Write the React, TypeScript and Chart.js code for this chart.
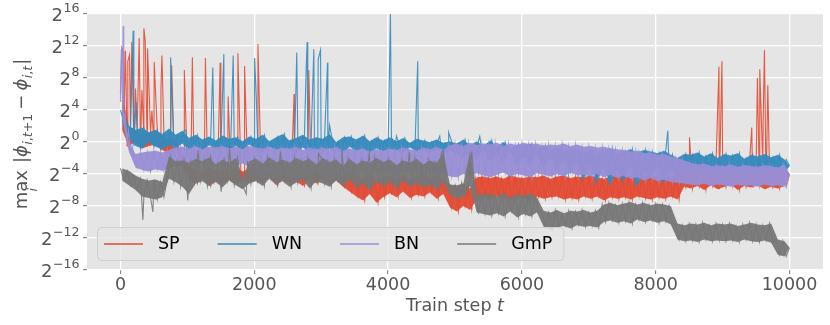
import React, { useEffect, useRef } from 'react';
import { Chart, registerables } from 'chart.js';

Chart.register(...registerables);

// ---------- data (values are log2 of max_i |phi_{i,t+1} - phi_{i,t}|) ----------
const STEP = 50; // spacing (train steps) of the base samples below
const X_TICKS = [0, 2000, 4000, 6000, 8000, 10000];
const Y_TICK_EXPONENTS = [-16, -12, -8, -4, 0, 4, 8, 12, 16];
const SERIES_NAMES = ['SP', 'WN', 'BN', 'GmP'];
const SERIES_RGB = ['226,74,51', '52,138,189', '152,142,213', '119,119,119'];
const LEGEND_COLORS = ['#E24A33', '#348ABD', '#988ED5', '#777777'];

const SP_BASE = [
  6, 1.5, -0.5, 2, 0, 1.5, -0.8, 1, -0.5, 1.2,
  -0.3, 1.5, -1, 0.8, -1.5, 0.5, -1, 0.2, -2.5, -1.5,
  -3.2, -4.8, -3.5, -5.2, -3.8, -4.5, -3.2, -5.5, -3.6, -4.9,
  -3.4, -5.1, -3.9, -4.6, -3.1, -5.3, -3.7, -4.8, -3.3, -5.0,
  -3.6, -4.7, -3.4, -5.2, -3.8, -4.4, -3.5, -5.4, -3.9, -4.6,
  -3.3, -5.1, -3.7, -4.9, -3.5, -5.5, -4.0, -4.7, -3.4, -5.2,
  -3.8, -4.6, -3.6, -5.3, -3.5, -4.8, -3.9, -5.6, -3.7, -6.2,
  -4.1, -6.8, -4.5, -7.3, -4.0, -6.5, -4.8, -7.6, -4.3, -6.9,
  -4.2, -6.4, -4.6, -6.9, -4.1, -6.2, -4.7, -7.0, -4.4, -6.6,
  -4.0, -6.8, -4.5, -6.3, -4.2, -7.1, -4.6, -6.5, -5.3, -8.2,
  -5.6, -8.7, -5.2, -8.0, -5.8, -8.5, -4.4, -7.2, -4.3, -6.9,
  -4.5, -7.1, -4.3, -6.8, -4.6, -7.0, -4.2, -7.2, -4.4, -6.9,
  -4.5, -7.0, -4.3, -7.3, -4.4, -6.8, -4.2, -7.1, -4.6, -6.9,
  -4.3, -6.8, -4.2, -7.2, -4.5, -7.0, -4.3, -7.2, -4.4, -6.8,
  -4.2, -7.1, -4.4, -6.8, -4.6, -7.3, -4.3, -6.9, -4.1, -7.1,
  -4.4, -6.9, -4.2, -7.2, -4.5, -6.8, -4.2, -7.0, -4.3, -7.2,
  -4.2, -6.9, -4.5, -7.1, -4.3, -6.8, -4.1, -7.2, -3.0, -5.6,
  -2.8, -5.8, -3.1, -5.5, -2.6, -6.0, -3.0, -5.4, -2.9, -5.9,
  -2.7, -5.6, -3.2, -5.3, -2.9, -6.0, -3.1, -5.5, -2.8, -5.7,
  -3.0, -5.4, -2.7, -5.9, -3.2, -5.6, -2.9, -5.8, -3.1, -5.5,
  -4.0,
];
const SP_SPIKE_STEPS = [20, 45, 75, 110, 135, 170, 225, 280, 320, 350, 370, 405, 470, 505, 605, 620, 765, 955, 1075, 1270, 1490, 1610, 1755, 1855, 2055, 2595, 2815, 8505, 8945, 8990, 9435, 9520, 9555, 9605, 9625, 9675];
const SP_SPIKE_VALUES = [11.8, 11.3, 11.4, 10.1, 10.9, 12.5, 6.7, 13, 6.5, 14.2, 12.7, 11.7, 3.9, 10, 6.5, 10.8, 9.6, 9, 10.6, 10.5, 9.9, 5.7, 11.1, 9.5, 12.25, 6, 9, 0.6, 9.4, 10.1, 1.8, 8, 9.1, 2.4, 11.5, 7.1];

const WN_BASE = [
  4, 2.5, 0.5, 2.0, -0.5, 1.5, -0.8, 1.8, 0, 1.2,
  -0.6, 1.5, -0.9, 1.0, -0.4, 1.7, -0.8, 0.9, -0.2, 1.4,
  -1.0, 0.5, -0.6, 0.9, -1.1, 0.3, -0.4, 0.7, -0.9, 0.2,
  -0.7, 0.8, -1.1, 0.4, -0.5, 0.6, -1.0, 0.1, -0.3, 0.7,
  -0.9, 0.4, -1.3, 0.9, -0.6, 0.1, -1.1, 0.6, -0.8, 1.0,
  -1.0, 0.2, -1.4, 0.5, -0.7, 0.9, -1.2, 0.3, -0.9, 0.6,
  -1.3, 0.4, -0.8, 1.0, -1.1, 0.0, -1.5, 0.6, -0.6, 0.7,
  -1.2, 0.3, -0.9, 0.8, -1.4, 0.1, -0.8, 0.6, -1.2, 0.2,
  -0.9, 0.6, -1.1, 0.1, -1.3, 0.5, -0.7, -0.1, -1.2, 0.4,
  -1.0, 0.2, -1.3, 0.0, -0.9, 0.3, -1.4, -0.1, -1.1, 0.1,
  -1.5, -0.2, -2.0, 0.3, -1.3, -0.4, -2.2, 0.1, -1.0, -0.5,
  -2.3, 0.2, -1.6, -0.6, -2.5, 0.0, -1.2, -0.8, -2.8, -0.3,
  -1.8, -0.5, -3.0, -0.2, -1.5, -0.9, -3.2, -0.4, -2.0, -1.0,
  -3.5, -0.6, -2.2, -1.2, -4.0, -0.8, -2.5, -1.0, -4.6, -1.3,
  -2.8, -0.9, -5.0, -1.4, -3.0, -1.1, -5.3, -0.8, -3.4, -1.5,
  -4.8, -1.2, -3.1, -0.9, -5.5, -1.3, -3.6, -1.0, -4.5, -1.2,
  -3.0, -1.4, -5.0, -1.1, -3.5, -1.6, -4.2, -2.0, -3.3, -1.5,
  -3.8, -1.6, -3.2, -1.3, -4.0, -1.8, -3.5, -1.4, -3.9, -2.0,
  -3.4, -1.5, -4.1, -1.7, -3.6, -1.4, -3.9, -2.1, -3.3, -1.6,
  -4.0, -1.8, -3.5, -1.5, -3.8, -1.9, -3.4, -1.6, -3.9, -2.2,
  -3.0,
];
const WN_SPIKE_STEPS = [190, 235, 750, 980, 1380, 1545, 1685, 2005, 2030, 2635, 2775, 2790, 2890, 2955, 2990, 3095, 3125, 4035, 4125, 4443, 4772, 4905, 5370, 8180];
const WN_SPIKE_VALUES = [13.9, 5, 10.6, 1.5, 9.3, 11, 10.8, 10.5, 5.7, 11.2, 9, 12.5, 11.6, 10.3, 11.5, 9.9, 2.1, 16, 0.75, 10.1, 0.75, 1.2, 0.7, 1.4];

const BN_BASE = [
  5, 3, 0, -1.2, -1.5, -3.2, -1.3, -3.5, -1.2, -3.7,
  -1.1, -3.4, -1.3, -3.6, -1.0, -3.3, -0.7, -2.9, -0.6, -3.0,
  -0.8, -2.8, -0.5, -3.1, -0.9, -2.7, -0.6, -3.0, -0.7, -2.9,
  -0.5, -3.1, -0.8, -2.8, -0.6, -3.0, -0.9, -2.7, -0.5, -3.1,
  -0.7, -4.2, -0.8, -4.5, -0.6, -3.9, -0.9, -4.4, -0.7, -4.0,
  -0.8, -4.3, -0.6, -4.6, -1.0, -4.1, -0.7, -4.4, -0.9, -3.8,
  -0.7, -4.2, -0.9, -4.5, -0.6, -4.0, -1.1, -4.3, -0.8, -3.9,
  -1.0, -4.1, -0.8, -3.7, -1.2, -4.2, -0.9, -3.8, -1.1, -4.0,
  -0.8, -3.9, -1.0, -4.2, -0.7, -3.6, -0.9, -4.0, -1.1, -3.8,
  -0.7, -4.1, -0.9, -3.7, -0.6, -4.2, -1.0, -3.9, -0.4, -4.3,
  -0.2, -4.4, -0.5, -4.0, -0.1, -4.3, -0.4, -3.9, -0.2, -4.2,
  -0.3, -4.4, -0.1, -4.1, -0.5, -3.8, -0.2, -4.3, -0.4, -4.0,
  -0.1, -4.2, -0.3, -4.4, -0.2, -3.9, -0.5, -4.1, -0.3, -4.3,
  -0.4, -4.0, -0.2, -4.3, -0.5, -3.8, -0.3, -4.2, -0.6, -4.1,
  -0.5, -4.3, -0.7, -4.0, -0.6, -4.4, -0.8, -4.1, -0.9, -4.5,
  -1.0, -4.2, -1.2, -4.6, -1.1, -4.4, -1.4, -4.8, -1.3, -4.5,
  -1.6, -4.9, -1.5, -4.7, -1.8, -5.0, -2.0, -5.1, -2.3, -5.2,
  -2.6, -5.3, -2.8, -5.4, -2.7, -5.2, -3.0, -5.5, -2.9, -5.3,
  -3.0, -5.4, -2.8, -5.6, -3.1, -5.3, -2.9, -5.5, -3.0, -5.4,
  -3.1, -5.6, -2.9, -5.3, -3.0, -5.5, -3.2, -5.4, -2.8, -5.6,
  -4.0,
];
const BN_SPIKE_STEPS = [10, 20, 30, 40, 70, 120, 175];
const BN_SPIKE_VALUES = [11.6, 9.5, 5, 14.5, 3.5, 1.5, -0.5];

const GMP_BASE = [
  -3.3, -4.8, -3.6, -5.4, -4.2, -6.0, -4.6, -6.8, -4.8, -7.0,
  -4.7, -7.2, -5.0, -6.9, -4.6, -1.8, -5.0, -2.4, -5.6, -2.3,
  -6.5, -2.6, -5.2, -2.1, -4.9, -2.4, -5.5, -1.9, -5.0, -2.8,
  -5.7, -2.2, -4.8, -2.6, -5.4, -2.0, -4.6, -5.9, -2.4, -5.2,
  -2.1, -4.9, -2.7, -5.5, -1.9, -4.6, -2.5, -5.3, -2.2, -4.9,
  -2.6, -5.6, -2.0, -5.1, -2.4, -4.7, -2.1, -5.8, -2.8, -4.9,
  -2.0, -5.2, -2.5, -5.6, -2.2, -4.8, -3.0, -5.5, -2.1, -4.7,
  -2.8, -5.7, -2.3, -5.2, -2.6, -6.0, -2.0, -4.9, -2.5, -5.5,
  -2.2, -5.0, -2.9, -5.8, -2.3, -4.8, -2.6, -5.6, -2.1, -5.2,
  -2.8, -5.6, -2.3, -5.4, -2.6, -5.9, -1.3, -5.0, -5.3, -6.6,
  -5.4, -7.1, -5.2, -6.8, -5.5, -1.2, -6.5, -8.8, -6.6, -9.0,
  -6.5, -9.2, -6.8, -8.9, -6.4, -9.3, -7.0, -8.7, -6.6, -9.4,
  -6.7, -9.0, -6.5, -9.3, -6.9, -8.8, -8.6, -10.6, -8.8, -10.9,
  -8.5, -10.7, -8.9, -10.5, -8.6, -10.8, -8.7, -10.4, -8.5, -10.6,
  -8.8, -10.5, -8.6, -10.7, -7.8, -10.0, -7.6, -9.8, -7.9, -10.1,
  -7.7, -9.9, -7.5, -10.2, -7.8, -9.7, -7.6, -10.0, -7.9, -9.8,
  -7.7, -10.1, -7.8, -9.9, -8.0, -10.3, -10.2, -12.2, -10.4, -12.4,
  -10.2, -12.3, -10.3, -12.5, -10.1, -12.2, -10.4, -12.4, -10.2, -12.3,
  -10.3, -12.4, -10.2, -12.3, -10.5, -12.5, -10.3, -12.2, -10.1, -12.4,
  -10.3, -12.5, -10.4, -12.3, -10.2, -12.6, -12.2, -14.1, -12.4, -14.3,
  -13.2,
];
const GMP_SPIKE_STEPS = [335, 485, 1005, 1160, 1505, 1630, 1880, 2390, 2960, 3310, 3720, 4320, 4830];
const GMP_SPIKE_VALUES = [-9.75, -8.75, -7.3, -1.0, -6.2, -0.9, -6.5, -1.2, -1.4, -1.0, -1.5, -1.3, -1.1];

// ---------- helpers ----------
type Pt = { x: number; y: number };
function buildSeries(base: number[], spikeSteps: number[], spikeValues: number[]): Pt[] {
  const pts: Pt[] = base.map((v, i) => ({ x: i * STEP, y: v }));
  spikeSteps.forEach((s, k) => pts.push({ x: s, y: spikeValues[k] }));
  pts.sort((a, b) => a.x - b.x);
  return pts;
}
// upper / lower edge of the noise band, taken pairwise from the base samples
function buildEnvelope(base: number[], upper: boolean): Pt[] {
  const pts: Pt[] = [];
  for (let i = 0; i < base.length; i += 2) {
    if (i + 1 < base.length) {
      const a = base[i];
      const b = base[i + 1];
      pts.push({ x: (i + 0.5) * STEP, y: upper ? Math.max(a, b) : Math.min(a, b) });
    } else {
      pts.push({ x: i * STEP, y: base[i] });
    }
  }
  return pts;
}

const FONT = '"DejaVu Sans", "Liberation Sans", sans-serif';
const TEXT_GRAY = '#555555';

function supText(e: number): string {
  return e < 0 ? '\u2212' + String(-e) : String(e);
}

type Run = { t: string; size: number; italic?: boolean; dy?: number; gap?: number };

const decorPlugin = {
  id: 'decor',
  beforeDraw(chart: any) {
    const { ctx, chartArea } = chart;
    ctx.save();
    ctx.fillStyle = '#ffffff';
    ctx.fillRect(0, 0, chart.width, chart.height);
    ctx.fillStyle = '#E5E5E5';
    ctx.fillRect(chartArea.left, chartArea.top, chartArea.right - chartArea.left, chartArea.bottom - chartArea.top);
    ctx.restore();
  },
  afterDraw(chart: any) {
    const { ctx, chartArea } = chart;
    const yScale = chart.scales.y;
    ctx.save();
    ctx.fillStyle = TEXT_GRAY;
    ctx.textBaseline = 'alphabetic';
    ctx.textAlign = 'left';
    const right = chartArea.left - 7.5;
    Y_TICK_EXPONENTS.forEach((e) => {
      const py = yScale.getPixelForValue(e);
      const exp = supText(e);
      ctx.font = `12.6px ${FONT}`;
      const ew = ctx.measureText(exp).width;
      ctx.font = `18px ${FONT}`;
      const bw = ctx.measureText('2').width;
      const bx = right - ew - bw - 0.5;
      ctx.fillText('2', bx, py + 6.6);
      ctx.font = `12.6px ${FONT}`;
      ctx.fillText(exp, right - ew, py - 2.5);
    });

    const cx = (chartArea.left + chartArea.right) / 2;
    ctx.font = `17.5px ${FONT}`;
    const w1 = ctx.measureText('Train step ').width;
    ctx.font = `italic 17.5px ${FONT}`;
    const w2 = ctx.measureText('t').width;
    const sx = cx - (w1 + w2) / 2;
    ctx.font = `17.5px ${FONT}`;
    ctx.fillText('Train step ', sx, 311);
    ctx.font = `italic 17.5px ${FONT}`;
    ctx.fillText('t', sx + w1, 311);

    const M = 18;
    const S = 12.6;
    const D = 4.6;
    const runs: Run[] = [
      { t: '|', size: M, gap: 7 },
      { t: '\u03D5', size: M, italic: true },
      { t: 'i', size: S, italic: true, dy: D, gap: 0.5 },
      { t: ',', size: S, dy: D },
      { t: 't', size: S, italic: true, dy: D },
      { t: '+', size: S, dy: D },
      { t: '1', size: S, dy: D },
      { t: '\u2212', size: M, gap: 4 },
      { t: '\u03D5', size: M, italic: true, gap: 4 },
      { t: 'i', size: S, italic: true, dy: D, gap: 0.5 },
      { t: ',', size: S, dy: D },
      { t: 't', size: S, italic: true, dy: D },
      { t: '|', size: M, gap: 1 },
    ];
    ctx.font = `${M}px ${FONT}`;
    const maxW = ctx.measureText('max').width;
    let total = maxW;
    const widths = runs.map((r) => {
      ctx.font = `${r.italic ? 'italic ' : ''}${r.size}px ${FONT}`;
      const w = ctx.measureText(r.t).width;
      total += w + (r.gap || 0);
      return w;
    });
    const midY = (chartArea.top + chartArea.bottom) / 2 - 8;
    ctx.translate(27, midY + total / 2);
    ctx.rotate(-Math.PI / 2);
    ctx.font = `${M}px ${FONT}`;
    ctx.fillText('max', 0, 0);
    ctx.font = `italic ${S}px ${FONT}`;
    const iw = ctx.measureText('i').width;
    ctx.fillText('i', maxW / 2 - iw / 2, 9.5);
    let u = maxW;
    runs.forEach((r, k) => {
      u += r.gap || 0;
      ctx.font = `${r.italic ? 'italic ' : ''}${r.size}px ${FONT}`;
      ctx.fillText(r.t, u, r.dy || 0);
      u += widths[k];
    });
    ctx.restore();

    // legend inside lower-left
    ctx.save();
    const lx = chartArea.left + 10;
    const ly = chartArea.bottom - 43;
    const lh = 33;
    ctx.font = `17.5px ${FONT}`;
    const handle = 39;
    const pad = 15;
    const colSp = 38;
    let total2 = 7;
    const tws = SERIES_NAMES.map((n) => ctx.measureText(n).width);
    tws.forEach((tw, k) => {
      total2 += handle + pad + tw + (k < tws.length - 1 ? colSp : 0);
    });
    total2 += 11;
    ctx.beginPath();
    (ctx as any).roundRect(lx + 0.5, ly + 0.5, total2, lh, 4);
    ctx.fillStyle = 'rgba(229,229,229,0.8)';
    ctx.fill();
    ctx.strokeStyle = '#cfcfcf';
    ctx.lineWidth = 1;
    ctx.stroke();
    let ex = lx + 7;
    const cy = ly + lh / 2 + 0.5;
    SERIES_NAMES.forEach((n, k) => {
      ctx.strokeStyle = LEGEND_COLORS[k];
      ctx.lineWidth = 1.3;
      ctx.beginPath();
      ctx.moveTo(ex, cy);
      ctx.lineTo(ex + handle, cy);
      ctx.stroke();
      ctx.fillStyle = '#000000';
      ctx.textBaseline = 'middle';
      ctx.fillText(n, ex + handle + pad, cy);
      ex += handle + pad + tws[k] + colSp;
    });
    ctx.restore();
  },
};

export default function App() {
  const ref = useRef<HTMLCanvasElement | null>(null);
  useEffect(() => {
    if (!ref.current) return;
    const bases = [SP_BASE, WN_BASE, BN_BASE, GMP_BASE];
    const spikeSteps = [SP_SPIKE_STEPS, WN_SPIKE_STEPS, BN_SPIKE_STEPS, GMP_SPIKE_STEPS];
    const spikeValues = [SP_SPIKE_VALUES, WN_SPIKE_VALUES, BN_SPIKE_VALUES, GMP_SPIKE_VALUES];
    const datasets: any[] = [];
    bases.forEach((base, k) => {
      const rgb = SERIES_RGB[k];
      const ord = (3 - k) * 3; // SP drawn first (bottom), GmP last (top)
      datasets.push({
        label: SERIES_NAMES[k] + ' band',
        data: buildEnvelope(base, true),
        borderWidth: 0,
        borderColor: `rgba(${rgb},0)`,
        backgroundColor: `rgba(${rgb},0.95)`,
        pointRadius: 0,
        fill: '+1',
        order: ord + 2,
      });
      datasets.push({
        label: SERIES_NAMES[k] + ' band low',
        data: buildEnvelope(base, false),
        borderWidth: 0,
        borderColor: `rgba(${rgb},0)`,
        pointRadius: 0,
        fill: false,
        order: ord + 1,
      });
      datasets.push({
        label: SERIES_NAMES[k],
        data: buildSeries(base, spikeSteps[k], spikeValues[k]),
        borderColor: `rgba(${rgb},0.9)`,
        backgroundColor: `rgba(${rgb},0.9)`,
        borderWidth: 1.1,
        pointRadius: 0,
        tension: 0,
        fill: false,
        order: ord,
      });
    });
    const grid = {
      color: '#ffffff',
      lineWidth: 1.3,
      drawTicks: true,
      tickLength: 4,
      tickColor: '#777777',
      tickWidth: 1,
    };
    const chart = new Chart(ref.current, {
      type: 'line',
      data: { datasets },
      options: {
        animation: false,
        responsive: false,
        maintainAspectRatio: false,
        devicePixelRatio: 1,
        layout: { padding: { left: 0, right: 7, top: 14, bottom: 0 } },
        plugins: { legend: { display: false }, tooltip: { enabled: false } },
        scales: {
          x: {
            type: 'linear',
            min: -500,
            max: 10500,
            afterBuildTicks: (s: any) => {
              s.ticks = X_TICKS.map((v) => ({ value: v }));
            },
            afterFit: (s: any) => {
              s.height = 55;
            },
            grid,
            border: { display: false },
            ticks: {
              color: TEXT_GRAY,
              font: { family: FONT, size: 17.5 },
              padding: 1,
              maxRotation: 0,
              autoSkip: false,
              callback: (v: any) => String(v),
            },
          },
          y: {
            type: 'linear',
            min: -16,
            max: 16,
            afterBuildTicks: (s: any) => {
              s.ticks = Y_TICK_EXPONENTS.map((v) => ({ value: v }));
            },
            afterFit: (s: any) => {
              s.width = 87;
            },
            grid,
            border: { display: false },
            ticks: { display: false },
          },
        },
      },
      plugins: [decorPlugin],
    } as any);
    return () => chart.destroy();
  }, []);
  return (
    <div style={{ position: 'fixed', left: 0, top: 0, width: 830, height: 325, background: '#fff' }}>
      <canvas ref={ref} width={830} height={325} style={{ display: 'block', width: 830, height: 325 }} />
    </div>
  );
}
